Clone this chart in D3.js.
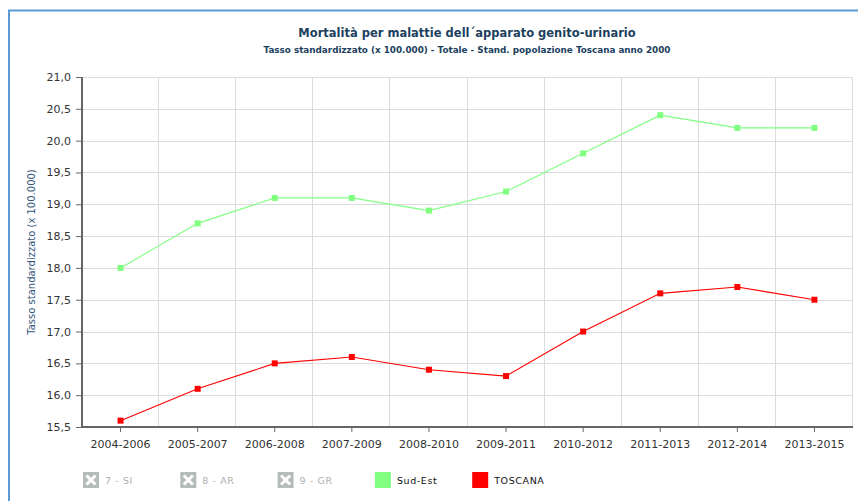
<!DOCTYPE html>
<html>
<head>
<meta charset="utf-8">
<script src="https://cdn.jsdelivr.net/npm/d3@7/dist/d3.min.js"></script>
<style>
  html, body { margin: 0; padding: 0; background: #fff; }
  svg { display: block; }
</style>
</head>
<body>
<svg id="chart" width="858" height="501"></svg>
<script>
// Three-year periods on the x axis
const periods = ["2004-2006", "2005-2007", "2006-2008", "2007-2009", "2008-2010",
                 "2009-2011", "2010-2012", "2011-2013", "2012-2014", "2013-2015"];
// Standardized rate (x 100.000)
const sudEst  = [18.0, 18.7, 19.1, 19.1, 18.9, 19.2, 19.8, 20.4, 20.2, 20.2];
const toscana = [15.6, 16.1, 16.5, 16.6, 16.4, 16.3, 17.0, 17.6, 17.7, 17.5];
// Y axis ticks
const yTicks = [15.5, 16.0, 16.5, 17.0, 17.5, 18.0, 18.5, 19.0, 19.5, 20.0, 20.5, 21.0];
// Legend entries (first three are disabled)
const legendNames = ["7 - SI", "8 - AR", "9 - GR", "Sud-Est", "TOSCANA"];
const legendColors = [null, null, null, "#80ff80", "#ff0000"];

const svg = d3.select("#chart");
const font = "Verdana, 'DejaVu Sans', sans-serif";

// Frame border (top and left)
svg.append("line").attr("x1", 8).attr("x2", 858).attr("y1", 10.5).attr("y2", 10.5)
  .attr("stroke", "#5b9bd5").attr("stroke-width", 2);
svg.append("line").attr("x1", 9).attr("x2", 9).attr("y1", 10).attr("y2", 501)
  .attr("stroke", "#5b9bd5").attr("stroke-width", 2);

const plot = { left: 82, right: 853, top: 77, bottom: 427 };

const x = d3.scaleBand().domain(periods).range([plot.left, plot.right]);
const y = d3.scaleLinear().domain([15.5, 21.0]).range([plot.bottom, plot.top]);
const cx = d => x(d) + x.bandwidth() / 2;

// Titles
svg.append("text").attr("x", 467).attr("y", 37).attr("text-anchor", "middle")
  .attr("font-family", font).attr("font-weight", "bold").attr("font-size", 11.5)
  .attr("fill", "#1c3f60").text("Mortalità per malattie dell´apparato genito-urinario");
svg.append("text").attr("x", 467).attr("y", 53).attr("text-anchor", "middle")
  .attr("font-family", font).attr("font-weight", "bold").attr("font-size", 8.8)
  .attr("fill", "#1c3f60").text("Tasso standardizzato (x 100.000) - Totale - Stand. popolazione Toscana anno 2000");

// Horizontal gridlines
svg.append("g").selectAll("line").data(yTicks.slice(1)).join("line")
  .attr("x1", plot.left).attr("x2", plot.right)
  .attr("y1", d => Math.round(y(d)) + 0.5).attr("y2", d => Math.round(y(d)) + 0.5)
  .attr("stroke", "#dcdcdc").attr("stroke-width", 1);

// Vertical gridlines at band boundaries
svg.append("g").selectAll("line").data(periods.slice(1).concat([null])).join("line")
  .attr("x1", (d, i) => Math.round(plot.left + x.step() * (i + 1)) - 0.5)
  .attr("x2", (d, i) => Math.round(plot.left + x.step() * (i + 1)) - 0.5)
  .attr("y1", plot.top).attr("y2", plot.bottom)
  .attr("stroke", "#dcdcdc").attr("stroke-width", 1);

// Y axis
const yAxis = d3.axisLeft(y).tickValues(yTicks).tickSize(6).tickPadding(5)
  .tickFormat(d => d3.format(".1f")(d).replace(".", ","));
const gy = svg.append("g").attr("transform", `translate(${plot.left},0)`).call(yAxis);
gy.select(".domain").attr("stroke", "#666").attr("stroke-width", 2).attr("d", `M0,${plot.top}V${plot.bottom}`);
gy.selectAll(".tick line").attr("stroke", "#666");
gy.selectAll(".tick text").attr("font-family", font).attr("font-size", 11).attr("fill", "#333");

// X axis
const xAxis = d3.axisBottom(x).tickSize(5).tickPadding(8);
const gx = svg.append("g").attr("transform", `translate(0,${plot.bottom})`).call(xAxis);
gx.select(".domain").attr("stroke", "#666").attr("stroke-width", 2).attr("d", `M${plot.left},0H${plot.right}`);
gx.selectAll(".tick line").attr("stroke", "#666");
gx.selectAll(".tick text").attr("font-family", font).attr("font-size", 11).attr("fill", "#333");

// Y axis title
svg.append("text").attr("transform", "translate(35,252) rotate(-90)")
  .attr("text-anchor", "middle").attr("font-family", font).attr("font-size", 10)
  .attr("fill", "#34577a").text("Tasso standardizzato (x 100.000)");

// Series lines and markers
const line = d3.line().x((d, i) => cx(periods[i])).y(d => y(d));
function drawSeries(values, color) {
  svg.append("path").datum(values).attr("d", line)
    .attr("fill", "none").attr("stroke", color).attr("stroke-width", 1.1);
  svg.append("g").selectAll("rect").data(values).join("rect")
    .attr("x", (d, i) => cx(periods[i]) - 3).attr("y", d => y(d) - 3)
    .attr("width", 6).attr("height", 6).attr("fill", color);
}
drawSeries(sudEst, "#80ff80");
drawSeries(toscana, "#ff0000");

// Legend
const lg = svg.append("g").selectAll("g").data(legendNames).join("g")
  .attr("transform", (d, i) => `translate(${83 + i * 97.3},472)`);
lg.each(function(d, i) {
  const g = d3.select(this);
  if (legendColors[i]) {
    g.append("rect").attr("width", 16).attr("height", 16).attr("fill", legendColors[i]);
    g.append("text").attr("x", 22).attr("y", 12).attr("font-family", font)
      .attr("font-size", 9.5).attr("letter-spacing", 0.6).attr("fill", "#111").text(d);
  } else {
    g.append("rect").attr("width", 16).attr("height", 16).attr("fill", "#b4bcbc");
    g.append("path").attr("d", "M3.5,3.5L12.5,12.5M12.5,3.5L3.5,12.5")
      .attr("stroke", "#fff").attr("stroke-width", 3);
    g.append("text").attr("x", 22).attr("y", 12).attr("font-family", font)
      .attr("font-size", 9.5).attr("letter-spacing", 0.6).attr("fill", "#b0b0b0").text(d);
  }
});
</script>
</body>
</html>
